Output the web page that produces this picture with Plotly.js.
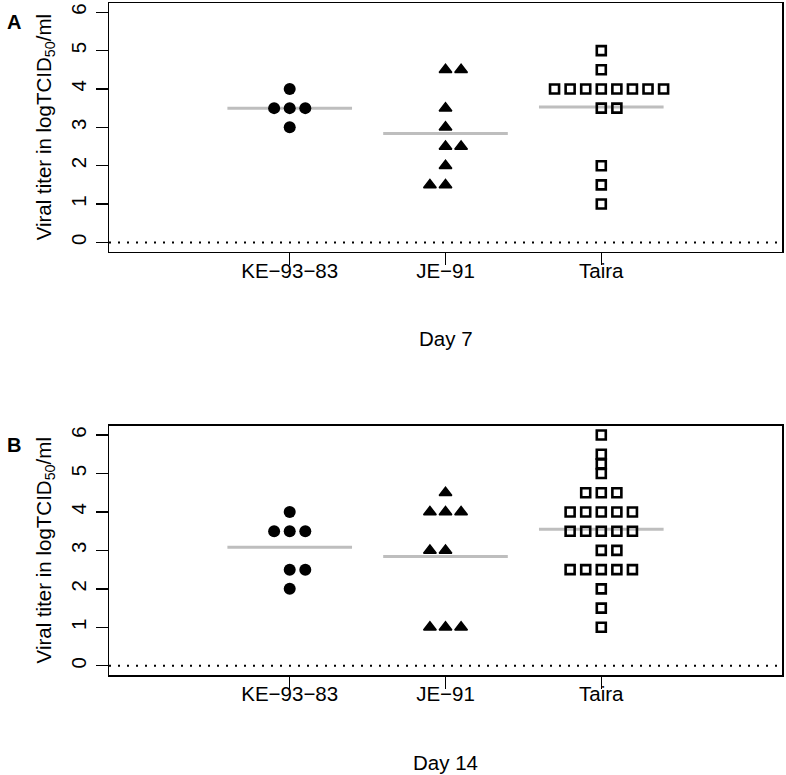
<!DOCTYPE html>
<html>
<head>
<meta charset="utf-8">
<script src="https://cdn.plot.ly/plotly-3.0.1.min.js"></script>
<style>html,body{margin:0;padding:0;background:#fff;}#chart{width:786px;height:775px;}</style>
</head>
<body>
<div id="chart"></div>
<script>
// ---- data ----
const groups = ['KE\u221293\u221283', 'JE\u221291', 'Taira'];
const yTicks = [0, 1, 2, 3, 4, 5, 6];
const dayLabels = ['Day 7', 'Day 14'];
const panelLabels = ['A', 'B'];

// Day 7 (panel A)
const d7_KE = [4, 3.5, 3.5, 3.5, 3];
const d7_KE_slot = [0, -1, 0, 1, 0];
const d7_JE = [4.5, 4.5, 3.5, 3, 2.5, 2.5, 2, 1.5, 1.5];
const d7_JE_slot = [0, 1, 0, 0, 0, 1, 0, -1, 0];
const d7_TA = [5, 4.5, 4, 4, 4, 4, 4, 4, 4, 4, 3.5, 3.5, 2, 1.5, 1];
const d7_TA_slot = [0, 0, -3, -2, -1, 0, 1, 2, 3, 4, 0, 1, 0, 0, 0];
const d7_means = [3.5, 2.84, 3.53];

// Day 14 (panel B)
const d14_KE = [4, 3.5, 3.5, 3.5, 2.5, 2.5, 2];
const d14_KE_slot = [0, -1, 0, 1, 0, 1, 0];
const d14_JE = [4.5, 4, 4, 4, 3, 3, 1, 1, 1];
const d14_JE_slot = [0, -1, 0, 1, -1, 0, -1, 0, 1];
const d14_TA = [6, 5.5, 5.25, 5, 4.5, 4.5, 4.5, 4, 4, 4, 4, 4, 3.5, 3.5, 3.5, 3.5, 3.5, 3, 3, 2.5, 2.5, 2.5, 2.5, 2.5, 2, 1.5, 1];
const d14_TA_slot = [0, 0, 0, 0, -1, 0, 1, -2, -1, 0, 1, 2, -2, -1, 0, 1, 2, 0, 1, -2, -1, 0, 1, 2, 0, 0, 0];
const d14_means = [3.08, 2.84, 3.55];

// ---- styling ----
const FONT = 'Liberation Sans, Arial, Helvetica, sans-serif';
const FS = 20.5;
const SLOT = 0.1;      // horizontal spacing of stacked points (x units)
const HALF = 0.4;      // half-width of mean bar
const markers = [
  {symbol: 'circle', size: 12, color: '#000', line: {width: 0}},
  {symbol: 'triangle-up', size: 11, color: '#000', line: {width: 1.5, color: '#000'}},
  {symbol: 'square-open', size: 9, color: '#000', line: {width: 2.6, color: '#000'}}
];

const panels = [
  {vals: [d7_KE, d7_JE, d7_TA], slots: [d7_KE_slot, d7_JE_slot, d7_TA_slot], means: d7_means, xa: 'x', ya: 'y'},
  {vals: [d14_KE, d14_JE, d14_TA], slots: [d14_KE_slot, d14_JE_slot, d14_TA_slot], means: d14_means, xa: 'x2', ya: 'y2'}
];

const traces = [];
panels.forEach(p => {
  p.means.forEach((m, gi) => {
    const pos = gi + 1;
    traces.push({
      x: [pos - HALF, pos + HALF], y: [m, m], mode: 'lines',
      line: {color: '#bebebe', width: 3}, xaxis: p.xa, yaxis: p.ya,
      hoverinfo: 'skip', showlegend: false
    });
  });
  p.vals.forEach((v, gi) => {
    traces.push({
      x: v.map((_, i) => gi + 1 + p.slots[gi][i] * SLOT),
      y: v, mode: 'markers', marker: markers[gi],
      xaxis: p.xa, yaxis: p.ya, showlegend: false, cliponaxis: false
    });
  });
});

function xAxis(anchor) {
  return {
    anchor: anchor, range: [-0.16, 4.16], tickvals: [1, 2, 3], ticktext: groups,
    ticks: 'outside', ticklen: 12, tickwidth: 1.3, tickcolor: '#000',
    showline: true, mirror: true, linecolor: '#000', linewidth: 1.5,
    showgrid: false, zeroline: false, fixedrange: true,
    tickfont: {family: FONT, size: FS, color: '#000'}, ticklabelstandoff: -12
  };
}
function yAxis(anchor, domain) {
  return {
    anchor: anchor, domain: domain, range: [-0.24, 6.24], tickvals: yTicks,
    ticks: 'outside', ticklen: 12, tickwidth: 1.3, tickcolor: '#000',
    showline: true, mirror: true, linecolor: '#000', linewidth: 1.5,
    showgrid: false, zeroline: false, fixedrange: true, tickangle: -90,
    tickfont: {family: FONT, size: FS, color: '#000'}, ticklabelstandoff: 1
  };
}

const annotations = [];
const shapes = [];
[['x', 'y'], ['x2', 'y2']].forEach(([xa, ya], pi) => {
  annotations.push({
    text: 'Viral titer in logTCID<sub>50</sub>/ml', textangle: -90,
    xref: xa + ' domain', yref: ya + ' domain', x: 0, y: 0.5,
    xshift: -64, xanchor: 'center', yanchor: 'middle', showarrow: false,
    font: {family: FONT, size: FS, color: '#000'}
  });
  annotations.push({
    text: dayLabels[pi], xref: xa + ' domain', yref: ya + ' domain', x: 0.5, y: 0,
    yshift: -87, xanchor: 'center', yanchor: 'middle', showarrow: false,
    font: {family: FONT, size: FS, color: '#000'}
  });
  annotations.push({
    text: '<b>' + panelLabels[pi] + '</b>', xref: xa + ' domain', yref: ya + ' domain',
    x: 0, y: 1, xshift: -95, yshift: -19, xanchor: 'center', yanchor: 'middle',
    showarrow: false, font: {family: FONT, size: 20, color: '#000'}
  });
  shapes.push({
    type: 'line', xref: xa + ' domain', yref: ya, x0: 0, x1: 1, y0: yTicks[0], y1: yTicks[0],
    line: {color: '#000', width: 2, dash: '2px,7px'}, layer: 'below'
  });
});

const layout = {
  width: 786, height: 775,
  margin: {l: 109, r: 4, t: 3, b: 100},
  paper_bgcolor: '#fff', plot_bgcolor: '#fff',
  showlegend: false,
  xaxis: xAxis('y'),
  yaxis: yAxis('x', [0.630, 1]),
  xaxis2: xAxis('y2'),
  yaxis2: yAxis('x2', [0, 0.3708]),
  annotations: annotations,
  shapes: shapes
};

Plotly.newPlot('chart', traces, layout, {displayModeBar: false, staticPlot: true});
</script>
</body>
</html>
